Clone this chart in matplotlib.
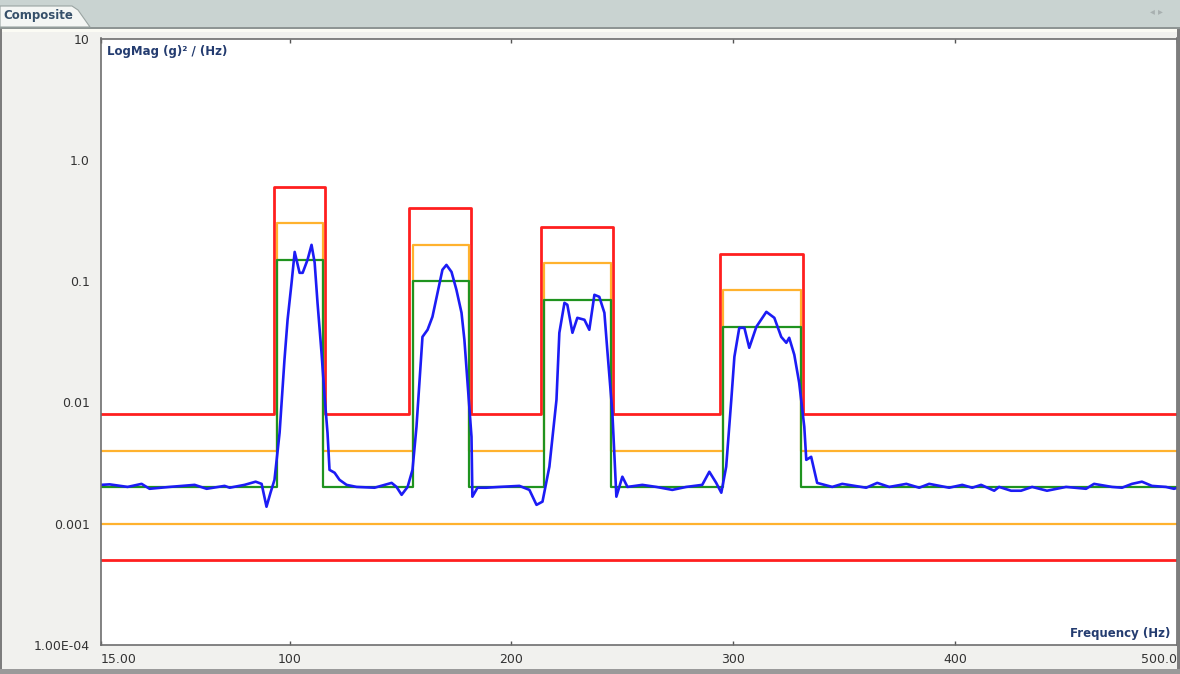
import matplotlib.pyplot as plt
from matplotlib.patches import Rectangle, Polygon
import numpy as np

freq = [15.0, 18.9, 27.0, 33.3, 36.9, 45.9, 57.2, 62.6, 70.7, 73.0, 79.7, 84.7,
        87.4, 89.6, 91.4, 93.2, 95.5, 97.7, 99.1, 100.9, 102.3, 104.5, 105.9,
        108.1, 109.9, 111.3, 112.6, 114.4, 115.8, 117.1, 118.0, 120.3, 122.5,
        125.7, 130.2, 138.3, 146.0, 148.2, 150.5, 153.2, 155.4, 157.2, 158.6,
        159.9, 162.2, 164.4, 166.7, 168.9, 170.7, 173.0, 175.2, 177.5, 178.8,
        180.2, 182.0, 182.4, 184.7, 188.7, 194.6, 203.6, 208.1, 211.3, 214.0,
        217.1, 220.3, 221.6, 223.9, 225.2, 227.5, 229.7, 232.9, 235.1, 237.4,
        239.6, 241.9, 243.2, 245.5, 247.3, 250.0, 252.3, 259.0, 265.3, 272.5,
        278.8, 286.0, 289.2, 292.3, 294.6, 296.8, 299.1, 300.5, 302.7, 305.0,
        307.2, 310.4, 314.9, 318.5, 321.6, 323.9, 325.2, 327.5, 329.7, 332.0,
        332.9, 335.1, 337.8, 344.6, 349.1, 359.9, 364.9, 370.3, 378.0, 383.8,
        388.3, 397.3, 403.2, 407.7, 411.7, 417.6, 419.8, 425.2, 429.7, 434.7,
        441.4, 450.0, 459.0, 462.6, 470.7, 475.2, 479.7, 484.2, 488.7, 495.0,
        498.6, 500.0]
psd = [0.00209, 0.00211, 0.00201, 0.00213, 0.00194, 0.00201, 0.00209, 0.00194,
       0.00205, 0.00198, 0.00209, 0.00222, 0.00213, 0.00138, 0.0018, 0.0023,
       0.00562, 0.0225, 0.048, 0.0968, 0.174, 0.117, 0.117, 0.150, 0.199, 0.142,
       0.066, 0.0256, 0.0111, 0.0056, 0.00278, 0.00263, 0.0023, 0.00209,
       0.00201, 0.00198, 0.00217, 0.00201, 0.00173, 0.00201, 0.00278, 0.00629,
       0.0154, 0.0347, 0.0397, 0.0508, 0.080, 0.124, 0.136, 0.119, 0.0848,
       0.0548, 0.0328, 0.0145, 0.0052, 0.00167, 0.00198, 0.00198, 0.00201,
       0.00205, 0.0019, 0.00143, 0.00152, 0.00295, 0.0105, 0.0375, 0.0662,
       0.0638, 0.0375, 0.0498, 0.048, 0.0397, 0.0771, 0.0742, 0.0548, 0.0272,
       0.0082, 0.00167, 0.00244, 0.00201, 0.00209, 0.00201, 0.0019, 0.00201,
       0.00209, 0.00268, 0.00217, 0.0018, 0.00295, 0.0105, 0.0238, 0.0412,
       0.0412, 0.0282, 0.042, 0.0558, 0.0498, 0.0347, 0.031, 0.0341, 0.0247,
       0.0145, 0.0063, 0.00336, 0.00356, 0.00217, 0.00201, 0.00213, 0.00198,
       0.00217, 0.00201, 0.00213, 0.00198, 0.00213, 0.00198, 0.00209, 0.00198,
       0.00209, 0.00187, 0.00201, 0.00187, 0.00187, 0.00201, 0.00187, 0.00201,
       0.00194, 0.00213, 0.00201, 0.00198, 0.00213, 0.00222, 0.00205, 0.00201,
       0.00194, 0.00197]

# профиль (reference) и допуски
band_lo = [94.5, 155.5, 214.5, 295.5]
band_hi = [115.0, 181.0, 245.0, 330.5]
red_lo = [93.0, 154.0, 213.5, 294.0]
red_hi = [116.0, 182.0, 246.0, 331.5]
ref_base = 0.002
ref_peak = [0.15, 0.10, 0.07, 0.042]
warn_k = 2.0      # оранжевая граница
abort_k = 4.0     # красная граница
warn_low = 0.001
abort_low = 0.0005

x_ticks = [15, 100, 200, 300, 400, 500]
x_labels = ['15.00', '100', '200', '300', '400', '500.0']
y_ticks = [1e-4, 1e-3, 1e-2, 1e-1, 1, 10]
y_labels = ['1.00E-04', '0.001', '0.01', '0.1', '1.0', '10']


def profile(lo, hi, base, peaks, k=1.0):
    xs, ys = [15.0], [base * k]
    for a, b, p in zip(lo, hi, peaks):
        xs += [a, a, b, b]
        ys += [base * k, p * k, p * k, base * k]
    xs.append(500.0)
    ys.append(base * k)
    return xs, ys


W, H = 1180, 674
fig = plt.figure(figsize=(W / 100, H / 100), dpi=100)
fig.patch.set_facecolor('#f1f1ee')


def fr(x, y, w, h, **kw):
    # прямоугольник в пикселях (от верхнего левого угла)
    fig.add_artist(Rectangle((x / W, 1 - (y + h) / H), w / W, h / H,
                             transform=fig.transFigure, **kw))


# рамка окна и полоса вкладок
fr(0, 0, W, 28, facecolor='#c9d3d1', edgecolor='none')
fr(0, 27, W, 2, facecolor='#8e9594', edgecolor='none')
fr(0, 29, W, 3, facecolor='#fbfbf4', edgecolor='none')
fr(0, 29, 2, H - 29, facecolor='#7d7d7d', edgecolor='none')
fr(W - 3, 29, 3, H - 29, facecolor='#7d7d7d', edgecolor='none')
fr(0, H - 5, W, 5, facecolor='#9a9a9a', edgecolor='none')
tab = [(0, 27), (0, 6), (72, 6), (78, 10), (90, 27)]
fig.add_artist(Polygon([(x / W, 1 - y / H) for x, y in tab], closed=True,
                       transform=fig.transFigure, facecolor='#f4f6f4',
                       edgecolor='#9aa4a2', lw=0.8))
fig.text(3 / W, 1 - 16 / H, 'Composite', fontsize=8.5, fontweight='bold',
         color='#36506a', va='center', ha='left')
fig.text(1150 / W, 1 - 12 / H, '\u25c2 \u25b8', fontsize=7, color='#a8b0b0',
         va='center', ha='left')

ax = fig.add_axes([101 / W, 1 - 645 / H, 1076 / W, 606.5 / H])
ax.set_facecolor('white')

rx, ry = profile(red_lo, red_hi, ref_base, ref_peak, abort_k)
ox, oy = profile(band_lo, band_hi, ref_base, ref_peak, warn_k)
gx, gy = profile(band_lo, band_hi, ref_base, ref_peak)

ax.plot(rx, ry, color='#ff1f1f', lw=2.0)
ax.plot(ox, oy, color='#ffb22e', lw=1.6)
ax.axhline(warn_low, color='#ffb22e', lw=1.6)
ax.axhline(abort_low, color='#ff1f1f', lw=2.0)
ax.plot(gx, gy, color='#1f931f', lw=1.6)
ax.plot(freq, psd, color='#1c1cf5', lw=1.9)

ax.set_yscale('log')
ax.set_xlim(15, 500)
ax.set_ylim(1e-4, 10)
ax.minorticks_off()

ax.set_xticks(x_ticks)
ax.set_xticklabels(x_labels)
ax.set_yticks(y_ticks)
ax.set_yticklabels(y_labels)
ax.tick_params(axis='x', direction='in', length=3, width=1, color='#555555',
               labelsize=9, labelcolor='#333333', pad=6, top=True)
ax.tick_params(axis='y', length=0, labelsize=9, labelcolor='#333333', pad=8)
xl = ax.get_xticklabels()
xl[0].set_ha('left')
xl[-1].set_ha('right')

for s in ax.spines.values():
    s.set_color('#6e6e6e')
    s.set_linewidth(1.2)

ax.text(0.006, 0.99, 'LogMag (g)\u00b2 / (Hz)', transform=ax.transAxes,
        fontsize=8.5, fontweight='bold', color='#243c70', va='top', ha='left')
ax.text(0.994, 0.008, 'Frequency (Hz)', transform=ax.transAxes,
        fontsize=8.5, fontweight='bold', color='#243c70', va='bottom', ha='right')

fig.savefig('out.png', dpi=100, facecolor=fig.get_facecolor())
